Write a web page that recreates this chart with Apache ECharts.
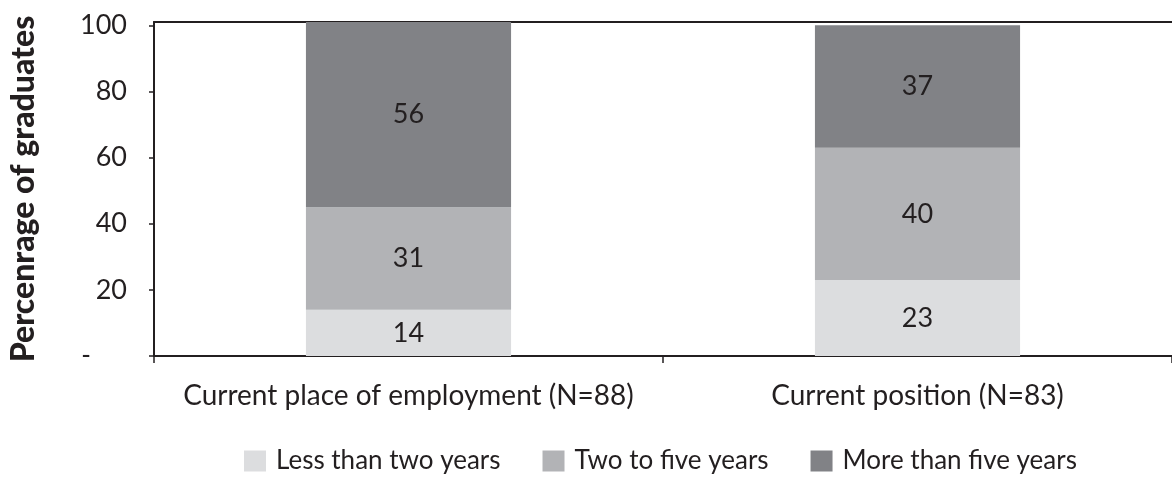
<!DOCTYPE html>
<html>
<head>
<meta charset="utf-8">
<script src="https://cdn.jsdelivr.net/npm/echarts@6/dist/echarts.min.js"></script>
<style>
html,body{margin:0;padding:0;background:#fff;}
#chart{width:1172px;height:478px;}
</style>
</head>
<body>
<div id="chart"></div>
<script>
const categories = ['Current place of employment (N=88)', 'Current position (N=83)'];
const lessThanTwo = [14, 23];
const twoToFive = [31, 40];
const moreThanFive = [56, 37];
const seriesNames = ['Less than two years', 'Two to five years', 'More than five years'];
const yTicks = [0, 20, 40, 60, 80, 100];

const FONT = 'Lato';
const INK = '#231f20';
const colors = ['#dcdddf', '#b2b3b6', '#818286'];

const chart = echarts.init(document.getElementById('chart'));

function bar(name, data, color) {
  return {
    name: name,
    type: 'bar',
    stack: 'total',
    data: data,
    barWidth: '40.3%',
    xAxisIndex: 0,
    itemStyle: { color: color },
    label: {
      show: true,
      position: 'inside',
      color: INK,
      fontFamily: FONT,
      fontSize: 27
    }
  };
}

chart.setOption({
  animation: false,
  color: colors,
  grid: { left: 147, right: -2, top: 22, bottom: 122, containLabel: false },
  legend: {
    bottom: 4,
    left: 244,
    padding: 0,
    itemWidth: 22,
    itemHeight: 21,
    itemGap: 42,
    icon: 'rect',
    textStyle: { fontFamily: FONT, fontSize: 26, color: INK, padding: [0, 0, 0, 5] },
    data: seriesNames
  },
  xAxis: [{
    type: 'category',
    data: categories,
    axisLine: { lineStyle: { color: INK, width: 2 } },
    axisTick: { show: true, length: 7, lineStyle: { color: INK, width: 1.5 } },
    axisLabel: { color: INK, fontFamily: FONT, fontSize: 28, margin: 26, interval: 0 }
  }, {
    type: 'category',
    data: categories,
    position: 'top',
    axisLine: { lineStyle: { color: INK, width: 2 } },
    axisTick: { show: false },
    axisLabel: { show: false }
  }],
  yAxis: {
    type: 'value',
    min: 0,
    max: 101,
    interval: 20,
    name: 'Percenrage of graduates',
    nameLocation: 'middle',
    nameGap: 114,
    nameTextStyle: { fontFamily: FONT, fontWeight: 900, fontSize: 32, color: INK },
    axisLine: { show: true, lineStyle: { color: INK, width: 2 } },
    axisTick: { show: true, length: 5, lineStyle: { color: INK, width: 1.5 }, customValues: yTicks },
    splitLine: { show: false },
    axisLabel: {
      color: INK,
      fontFamily: FONT,
      fontSize: 27,
      margin: 27,
      customValues: yTicks,
      formatter: function (v) {
        if (v === 0) return '{d|-}';
        if (v > 100) return '';
        return String(v);
      },
      rich: { d: { fontFamily: FONT, fontSize: 26, color: INK, padding: [0, 36, 0, 0] } }
    }
  },
  series: [
    bar(seriesNames[0], lessThanTwo, colors[0]),
    bar(seriesNames[1], twoToFive, colors[1]),
    bar(seriesNames[2], moreThanFive, colors[2])
  ]
});
</script>
</body>
</html>
